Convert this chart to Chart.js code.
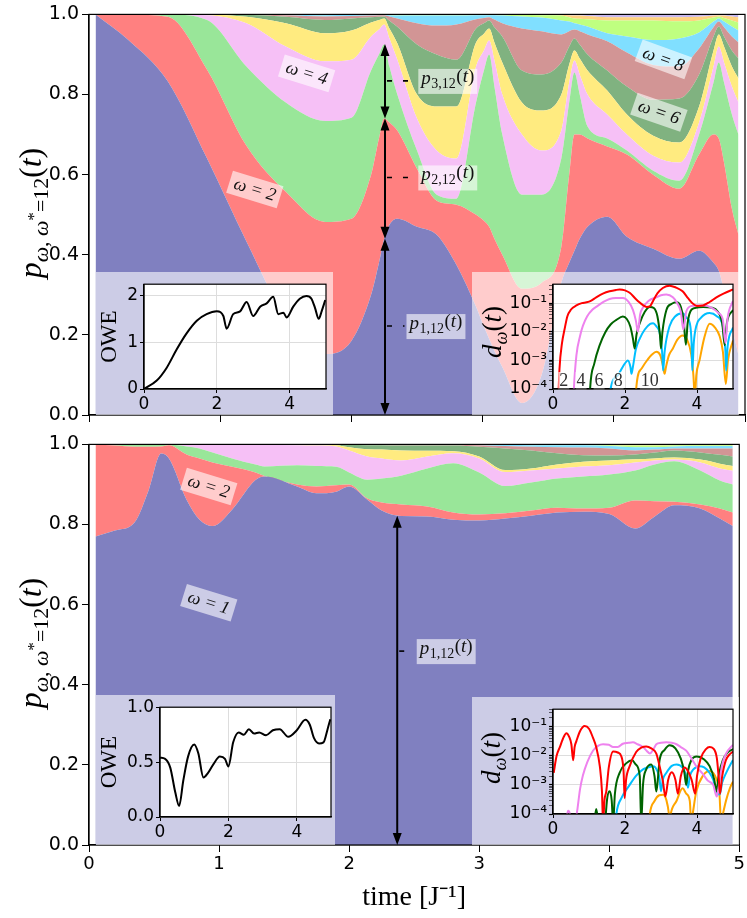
<!DOCTYPE html>
<html>
<head>
<meta charset="utf-8">
<script src="https://cdn.jsdelivr.net/npm/chart.js@4.4.1/dist/chart.umd.min.js"></script>
<style>
  body { margin: 0; width: 747px; height: 918px; position: relative; background: #fff; overflow: hidden; }
  canvas { position: absolute; left: 0; top: 0; }
  .pane { position: absolute; background: rgba(255,255,255,0.6); }
  .vtitle { position: absolute; height: 40px; line-height: 40px; text-align: center; transform: rotate(-90deg);
    font-family: 'Liberation Serif', serif; white-space: nowrap; color: #000; }
  .vtitle sub { font-size: 0.68em; vertical-align: -0.3em; }
  .vtitle sup { font-size: 0.8em; vertical-align: 0.5em; }
</style>
</head>
<body>
<canvas id="topMain" width="747" height="430"></canvas>
<canvas id="bottomMain" width="747" height="488" style="top:430px"></canvas>
<div class="pane" style="left:96px;top:272px;width:237px;height:143px"><canvas id="topOwe" width="237" height="143"></canvas></div>
<div class="pane" style="left:472px;top:272px;width:267px;height:143px"><canvas id="topDist" width="267" height="143"></canvas></div>
<div class="pane" style="left:96px;top:695px;width:239px;height:150px"><canvas id="bottomOwe" width="239" height="150"></canvas></div>
<div class="pane" style="left:472px;top:697px;width:267px;height:148px"><canvas id="bottomDist" width="267" height="148"></canvas></div>
<div class="vtitle" style="left:-100px;top:193px;width:260px;font-size:32px"><i>p</i><sub><i>ω</i>, <i>ω</i><sup>*</sup>=12</sub>(<i>t</i>)</div>
<div class="vtitle" style="left:-100px;top:623px;width:260px;font-size:32px"><i>p</i><sub><i>ω</i>, <i>ω</i><sup>*</sup>=12</sub>(<i>t</i>)</div>
<div class="vtitle" style="left:452px;top:312px;width:80px;font-size:27px"><i>d</i><sub><i>ω</i></sub>(<i>t</i>)</div>
<div class="vtitle" style="left:451px;top:738px;width:80px;font-size:27px"><i>d</i><sub><i>ω</i></sub>(<i>t</i>)</div>
<script>
// stacked occupation p_w(t): upper edge of each band (cumulative over w), w* = 12
const timeTop = [0.05, 0.3, 0.6, 0.9, 1.2, 1.5, 1.8, 2.0, 2.15, 2.21, 2.25, 2.29, 2.35, 2.5, 2.65, 2.8, 2.95, 3.01, 3.05, 3.09, 3.15, 3.3, 3.45, 3.6, 3.66, 3.7, 3.74, 3.8, 3.95, 4.1, 4.3, 4.5, 4.65, 4.76, 4.8, 4.84, 4.9, 4.95]
const topEdge1 = [1.0, 0.936, 0.833, 0.64, 0.433, 0.243, 0.152, 0.185, 0.30, 0.38, 0.44, 0.475, 0.49, 0.47, 0.45, 0.375, 0.27, 0.22, 0.19, 0.16, 0.12, 0.03, 0.10, 0.33, 0.38, 0.41, 0.44, 0.47, 0.495, 0.445, 0.415, 0.39, 0.41, 0.38, 0.36, 0.31, 0.22, 0.15]
const topEdge2 = [1.0, 0.999, 0.994, 0.862, 0.672, 0.557, 0.482, 0.49, 0.60, 0.69, 0.74, 0.73, 0.71, 0.615, 0.535, 0.525, 0.50, 0.485, 0.47, 0.44, 0.40, 0.315, 0.33, 0.42, 0.60, 0.70, 0.70, 0.69, 0.67, 0.65, 0.60, 0.565, 0.65, 0.70, 0.69, 0.63, 0.515, 0.45]
const topEdge3 = [1.0, 1.0, 1.0, 0.986, 0.87, 0.78, 0.734, 0.742, 0.86, 0.90, 0.925, 0.87, 0.80, 0.66, 0.55, 0.54, 0.78, 0.86, 0.90, 0.82, 0.70, 0.55, 0.55, 0.64, 0.78, 0.855, 0.80, 0.72, 0.69, 0.66, 0.61, 0.585, 0.70, 0.83, 0.88, 0.83, 0.75, 0.70]
const topEdge4 = [1.0, 1.0, 1.0, 0.998, 0.978, 0.92, 0.883, 0.887, 0.945, 0.962, 0.975, 0.94, 0.887, 0.74, 0.66, 0.64, 0.87, 0.91, 0.935, 0.885, 0.80, 0.70, 0.66, 0.71, 0.83, 0.885, 0.85, 0.80, 0.75, 0.70, 0.647, 0.63, 0.73, 0.87, 0.92, 0.88, 0.82, 0.78]
const topEdge5 = [1.0, 1.0, 1.0, 1.0, 0.994, 0.978, 0.953, 0.96, 0.98, 0.986, 0.99, 0.965, 0.928, 0.80, 0.77, 0.77, 0.93, 0.952, 0.965, 0.93, 0.88, 0.78, 0.76, 0.80, 0.875, 0.91, 0.89, 0.86, 0.81, 0.75, 0.697, 0.68, 0.77, 0.91, 0.95, 0.92, 0.87, 0.84]
const topEdge6 = [1.0, 1.0, 1.0, 1.0, 0.999, 0.994, 0.986, 0.99, 0.993, 0.994, 0.995, 0.984, 0.969, 0.925, 0.90, 0.887, 0.965, 0.978, 0.985, 0.968, 0.945, 0.86, 0.85, 0.88, 0.92, 0.94, 0.925, 0.90, 0.86, 0.82, 0.787, 0.79, 0.85, 0.945, 0.97, 0.945, 0.91, 0.89]
const topEdge7 = [1.0, 1.0, 1.0, 1.0, 1.0, 0.998, 0.995, 0.996, 0.997, 0.998, 0.998, 0.995, 0.99, 0.978, 0.972, 0.975, 0.988, 0.991, 0.993, 0.987, 0.978, 0.965, 0.958, 0.95, 0.958, 0.962, 0.958, 0.95, 0.933, 0.905, 0.874, 0.87, 0.915, 0.968, 0.982, 0.968, 0.945, 0.93]
const topEdge8 = [1.0, 1.0, 1.0, 1.0, 1.0, 1.0, 0.998, 0.999, 0.999, 0.999, 0.999, 0.998, 0.997, 0.997, 0.997, 0.997, 0.998, 0.998, 0.998, 0.998, 0.997, 0.995, 0.992, 0.985, 0.982, 0.978, 0.975, 0.97, 0.953, 0.945, 0.936, 0.94, 0.955, 0.982, 0.99, 0.982, 0.97, 0.96]
const topEdge9 = [1.0, 1.0, 1.0, 1.0, 1.0, 1.0, 1.0, 1.0, 1.0, 1.0, 1.0, 1.0, 0.999, 0.999, 0.999, 0.999, 0.999, 0.999, 0.999, 0.999, 0.999, 0.999, 0.998, 0.997, 0.993, 0.99, 0.989, 0.988, 0.985, 0.985, 0.985, 0.983, 0.985, 0.992, 0.995, 0.991, 0.985, 0.98]
const topEdge10 = [1.0, 1.0, 1.0, 1.0, 1.0, 1.0, 1.0, 1.0, 1.0, 1.0, 1.0, 1.0, 1.0, 1.0, 1.0, 1.0, 1.0, 1.0, 1.0, 1.0, 1.0, 1.0, 0.999, 0.999, 0.998, 0.997, 0.997, 0.996, 0.993, 0.993, 0.993, 0.993, 0.994, 0.997, 0.998, 0.997, 0.995, 0.993]
const topEdge11 = [1.0, 1.0, 1.0, 1.0, 1.0, 1.0, 1.0, 1.0, 1.0, 1.0, 1.0, 1.0, 1.0, 1.0, 1.0, 1.0, 1.0, 1.0, 1.0, 1.0, 1.0, 1.0, 1.0, 1.0, 1.0, 1.0, 1.0, 1.0, 1.0, 1.0, 1.0, 1.0, 1.0, 1.0, 1.0, 1.0, 1.0, 1.0]

const timeBottom = [0.05, 0.2, 0.35, 0.46, 0.555, 0.615, 0.75, 0.85, 0.95, 1.1, 1.28, 1.35, 1.6, 1.75, 1.9, 2.0, 2.14, 2.25, 2.4, 2.6, 2.8, 3.0, 3.2, 3.4, 3.6, 3.8, 4.0, 4.2, 4.35, 4.5, 4.7, 4.85, 4.95]
const botEdge1 = [0.77, 0.785, 0.805, 0.887, 0.977, 0.965, 0.862, 0.812, 0.796, 0.837, 0.911, 0.92, 0.895, 0.878, 0.882, 0.895, 0.862, 0.835, 0.821, 0.82, 0.812, 0.81, 0.815, 0.822, 0.83, 0.832, 0.826, 0.79, 0.82, 0.848, 0.84, 0.815, 0.796]
const botEdge2 = [1.0, 0.997, 0.994, 0.994, 0.995, 0.998, 0.975, 0.965, 0.955, 0.944, 0.93, 0.921, 0.90, 0.895, 0.898, 0.90, 0.865, 0.855, 0.85, 0.845, 0.83, 0.825, 0.828, 0.835, 0.842, 0.84, 0.842, 0.86, 0.858, 0.857, 0.85, 0.84, 0.83]
const botEdge3 = [1.0, 0.999, 0.999, 0.999, 0.999, 1.0, 0.995, 0.99, 0.98, 0.965, 0.95, 0.945, 0.948, 0.946, 0.944, 0.93, 0.912, 0.915, 0.922, 0.94, 0.953, 0.93, 0.896, 0.905, 0.915, 0.92, 0.925, 0.935, 0.95, 0.958, 0.935, 0.91, 0.9]
const botEdge4 = [1.0, 1.0, 1.0, 1.0, 1.0, 1.0, 1.0, 1.0, 1.0, 1.0, 0.999, 0.999, 0.998, 0.997, 0.995, 0.985, 0.97, 0.965, 0.96, 0.97, 0.978, 0.965, 0.931, 0.935, 0.94, 0.945, 0.948, 0.955, 0.96, 0.962, 0.955, 0.94, 0.934]
const botEdge5 = [1.0, 1.0, 1.0, 1.0, 1.0, 1.0, 1.0, 1.0, 1.0, 1.0, 1.0, 1.0, 0.999, 0.999, 0.998, 0.993, 0.988, 0.987, 0.985, 0.984, 0.983, 0.97, 0.936, 0.94, 0.95, 0.957, 0.96, 0.963, 0.965, 0.967, 0.962, 0.952, 0.946]
const botEdge6 = [1.0, 1.0, 1.0, 1.0, 1.0, 1.0, 1.0, 1.0, 1.0, 1.0, 1.0, 1.0, 1.0, 1.0, 1.0, 0.999, 0.998, 0.998, 0.997, 0.997, 0.997, 0.994, 0.99, 0.985, 0.978, 0.973, 0.972, 0.975, 0.98, 0.985, 0.98, 0.974, 0.97]
const botEdge7 = [1.0, 1.0, 1.0, 1.0, 1.0, 1.0, 1.0, 1.0, 1.0, 1.0, 1.0, 1.0, 1.0, 1.0, 1.0, 1.0, 1.0, 1.0, 1.0, 0.999, 0.999, 0.998, 0.996, 0.994, 0.993, 0.992, 0.99, 0.985, 0.987, 0.99, 0.99, 0.99, 0.99]
const botEdge8 = [1.0, 1.0, 1.0, 1.0, 1.0, 1.0, 1.0, 1.0, 1.0, 1.0, 1.0, 1.0, 1.0, 1.0, 1.0, 1.0, 1.0, 1.0, 1.0, 1.0, 1.0, 0.999, 0.999, 0.998, 0.998, 0.998, 0.996, 0.993, 0.993, 0.995, 0.996, 0.996, 0.996]
const botEdge9 = [1.0, 1.0, 1.0, 1.0, 1.0, 1.0, 1.0, 1.0, 1.0, 1.0, 1.0, 1.0, 1.0, 1.0, 1.0, 1.0, 1.0, 1.0, 1.0, 1.0, 1.0, 1.0, 1.0, 1.0, 1.0, 1.0, 0.998, 0.997, 0.997, 0.998, 0.998, 0.998, 0.998]
const botEdge10 = [1.0, 1.0, 1.0, 1.0, 1.0, 1.0, 1.0, 1.0, 1.0, 1.0, 1.0, 1.0, 1.0, 1.0, 1.0, 1.0, 1.0, 1.0, 1.0, 1.0, 1.0, 1.0, 1.0, 1.0, 1.0, 1.0, 0.999, 0.999, 0.999, 0.999, 0.999, 0.999, 0.999]
const botEdge11 = [1.0, 1.0, 1.0, 1.0, 1.0, 1.0, 1.0, 1.0, 1.0, 1.0, 1.0, 1.0, 1.0, 1.0, 1.0, 1.0, 1.0, 1.0, 1.0, 1.0, 1.0, 1.0, 1.0, 1.0, 1.0, 1.0, 1.0, 1.0, 1.0, 1.0, 1.0, 1.0, 1.0]

// band colours, w = 1 .. 11 (half-transparent named colours on white)
const bandColors = ['rgb(128,128,192)', 'rgb(255,128,128)', 'rgb(153,230,153)', 'rgb(246,192,246)', 'rgb(255,235,128)',
  'rgb(128,178,128)', 'rgb(210,149,149)', 'rgb(128,223,255)', 'rgb(191,255,128)', 'rgb(255,210,128)', 'rgb(201,184,237)']

// OWE insets
const oweTimeTop = [0, 0.35, 0.62, 0.9, 1.17, 1.45, 1.72, 2.0, 2.18, 2.27, 2.45, 2.64, 2.82, 3.0, 3.19, 3.37, 3.55, 3.69, 3.83, 3.92, 4.1, 4.28, 4.46, 4.6, 4.7, 4.8, 4.88, 4.98]
const oweTop = [0, 0.18, 0.45, 0.85, 1.19, 1.46, 1.6, 1.66, 1.56, 1.29, 1.6, 1.66, 1.86, 1.56, 1.76, 1.83, 1.97, 1.6, 1.63, 1.53, 1.76, 1.93, 1.99, 1.93, 1.73, 1.5, 1.66, 1.9]
const oweTimeBottom = [0, 0.15, 0.3, 0.45, 0.56, 0.68, 0.82, 1.0, 1.12, 1.27, 1.4, 1.56, 1.75, 1.9, 2.0, 2.14, 2.3, 2.45, 2.6, 2.75, 2.9, 3.1, 3.3, 3.5, 3.75, 4.0, 4.25, 4.38, 4.5, 4.65, 4.78, 4.9, 4.98]
const oweBottom = [0.54, 0.53, 0.45, 0.22, 0.1, 0.33, 0.55, 0.66, 0.58, 0.36, 0.4, 0.48, 0.55, 0.53, 0.46, 0.68, 0.77, 0.75, 0.8, 0.76, 0.77, 0.745, 0.79, 0.8, 0.73, 0.79, 0.885, 0.84, 0.72, 0.67, 0.68, 0.8, 0.89]

// d_w(t) insets, [t, d] pairs; w = 2, 4, 6, 8, 10
const distTop2 = [[0.13,1e-5],[0.18,5e-4],[0.25,4e-3],[0.32,0.012],[0.4,0.035],[0.5,0.06],[0.65,0.083],[0.8,0.1],[0.93,0.107],[1.05,0.12],[1.2,0.16],[1.4,0.22],[1.57,0.26],[1.75,0.29],[1.85,0.3],[2.0,0.28],[2.13,0.23],[2.3,0.14],[2.4,0.107],[2.5,0.085],[2.6,0.074],[2.7,0.08],[2.78,0.12],[2.9,0.22],[3.05,0.34],[3.24,0.41],[3.4,0.36],[3.6,0.26],[3.75,0.15],[3.89,0.095],[4.0,0.08],[4.17,0.083],[4.35,0.11],[4.54,0.16],[4.75,0.22],[5.0,0.3]]
const distTop4 = [[0.55,1e-5],[0.58,1e-4],[0.65,1.5e-3],[0.75,7e-3],[0.83,0.016],[0.95,0.035],[1.1,0.06],[1.2,0.074],[1.4,0.11],[1.57,0.14],[1.75,0.15],[1.94,0.15],[2.1,0.11],[2.22,0.058],[2.3,0.025],[2.36,0.01],[2.42,0.04],[2.5,0.07],[2.65,0.12],[2.87,0.16],[3.0,0.19],[3.15,0.2],[3.33,0.16],[3.45,0.1],[3.55,0.05],[3.62,0.012],[3.7,0.05],[3.85,0.08],[3.98,0.083],[4.2,0.083],[4.4,0.07],[4.6,0.045],[4.72,0.025],[4.79,0.004],[4.85,0.03],[5.0,0.12]]
const distTop6 = [[1.0,1e-5],[1.03,1e-4],[1.15,8e-4],[1.3,3.5e-3],[1.45,9.5e-3],[1.6,0.018],[1.76,0.026],[1.94,0.034],[2.05,0.028],[2.15,0.015],[2.22,0.0058],[2.27,0.0026],[2.32,0.008],[2.41,0.02],[2.55,0.05],[2.69,0.074],[2.8,0.068],[2.9,0.035],[2.97,0.008],[3.0,0.0026],[3.04,0.01],[3.15,0.058],[3.3,0.095],[3.43,0.107],[3.55,0.075],[3.63,0.025],[3.69,0.0035],[3.74,0.02],[3.85,0.06],[4.0,0.07],[4.17,0.074],[4.4,0.07],[4.58,0.05],[4.7,0.02],[4.77,0.0034],[4.83,0.02],[5.0,0.058]]
const distTop8 = [[1.55,1e-5],[1.6,1e-4],[1.8,3e-4],[1.94,6e-4],[2.08,1e-3],[2.15,6e-4],[2.18,3.4e-4],[2.22,6e-4],[2.3,2.4e-3],[2.41,5.8e-3],[2.55,0.012],[2.7,0.019],[2.78,0.02],[2.88,0.015],[2.96,0.0095],[3.03,2e-3],[3.06,4.4e-4],[3.1,2e-3],[3.24,0.016],[3.4,0.035],[3.6,0.044],[3.72,0.03],[3.8,0.02],[3.85,4e-3],[3.87,4.4e-4],[3.91,4e-3],[3.98,0.016],[4.1,0.03],[4.35,0.045],[4.55,0.035],[4.72,0.015],[4.79,2e-3],[4.81,4.4e-4],[4.85,3e-3],[5.0,0.014]]
const distTop10 = [[2.29,1e-5],[2.31,1e-4],[2.45,5e-4],[2.6,9.5e-4],[2.75,1.6e-3],[2.87,2e-3],[2.98,1.5e-3],[3.06,6e-4],[3.1,3.4e-4],[3.14,6e-4],[3.22,1.5e-3],[3.33,2.6e-3],[3.45,5.2e-3],[3.6,7.4e-3],[3.72,5.5e-3],[3.84,1.6e-3],[3.9,3e-4],[3.94,5e-5],[3.98,3e-4],[4.07,1e-3],[4.2,6e-3],[4.35,0.019],[4.5,0.014],[4.63,0.007],[4.72,0.002],[4.8,1.5e-4],[4.86,1e-3],[5.0,0.005]]

const distBot2 = [[0.02,0.0026],[0.1,0.01],[0.19,0.02],[0.3,0.045],[0.37,0.06],[0.45,0.045],[0.51,0.025],[0.56,0.007],[0.6,0.02],[0.65,0.032],[0.75,0.07],[0.88,0.105],[1.0,0.085],[1.11,0.042],[1.2,0.02],[1.3,0.0044],[1.36,6e-4],[1.39,5e-5],[1.43,3e-4],[1.48,6e-4],[1.55,4e-3],[1.67,0.014],[1.8,0.013],[1.9,0.0095],[1.96,3e-3],[1.99,3.5e-4],[2.03,1.5e-3],[2.13,0.0044],[2.31,0.0135],[2.45,0.019],[2.59,0.021],[2.73,0.018],[2.87,0.012],[2.95,0.005],[3.05,0.0014],[3.12,4e-4],[3.2,0.0015],[3.3,0.0027],[3.4,0.0015],[3.47,5e-4],[3.55,0.002],[3.65,0.004],[3.75,0.003],[3.85,0.0015],[3.95,5e-4],[4.0,0.002],[4.1,0.008],[4.25,0.017],[4.35,0.02],[4.45,0.018],[4.55,0.0085],[4.6,0.002],[4.64,5e-4],[4.7,0.002],[4.8,0.007],[4.9,0.011],[5.0,0.014]]
const distBot4 = [[0.35,5e-5],[0.42,1.3e-4],[0.47,1e-4],[0.5,5e-5],[0.56,null],[0.62,5e-5],[0.68,1.5e-4],[0.75,7e-4],[0.83,2.1e-3],[0.95,6e-3],[1.11,0.015],[1.25,0.022],[1.39,0.025],[1.55,0.024],[1.67,0.02],[1.8,0.02],[1.94,0.026],[2.1,0.028],[2.22,0.029],[2.35,0.025],[2.5,0.02],[2.6,0.015],[2.69,0.012],[2.78,0.016],[2.87,0.025],[3.0,0.028],[3.15,0.029],[3.3,0.028],[3.43,0.025],[3.55,0.02],[3.7,0.015],[3.85,0.008],[4.0,0.004],[4.15,0.0025],[4.3,0.0014],[4.45,0.001],[4.55,4e-4],[4.6,8e-4],[4.7,0.005],[4.81,0.012],[5.0,0.024]]
const distBot6 = [[1.15,5e-5],[1.2,1.5e-4],[1.26,5e-5],[1.3,null],[1.45,5e-5],[1.5,3e-4],[1.57,6e-4],[1.63,3e-4],[1.67,5e-5],[1.72,5e-4],[1.85,2.6e-3],[2.04,5.6e-3],[2.2,7e-3],[2.3,5e-3],[2.41,2e-3],[2.45,5e-5],[2.5,1e-3],[2.59,3.4e-3],[2.73,5e-3],[2.82,2e-3],[2.87,5.9e-4],[2.92,2e-3],[2.96,7e-3],[3.1,0.016],[3.24,0.023],[3.4,0.018],[3.55,0.008],[3.65,0.0026],[3.7,1e-3],[3.75,3e-3],[3.84,0.007],[4.0,0.0095],[4.2,0.0075],[4.35,0.0044],[4.48,0.0015],[4.54,5.9e-4],[4.6,0.002],[4.72,0.0072],[4.85,0.013],[5.0,0.017]]
const distBot8 = [[1.74,5e-5],[1.76,1e-4],[1.9,3.5e-4],[2.13,1e-3],[2.3,2e-3],[2.5,3.4e-3],[2.65,4e-3],[2.78,4.4e-3],[2.9,3e-3],[2.96,1.6e-3],[3.0,6e-4],[3.05,1.5e-3],[3.15,2.6e-3],[3.3,4.5e-3],[3.43,5e-3],[3.6,3.9e-3],[3.7,2e-3],[3.75,8e-4],[3.8,2e-3],[3.9,3.4e-3],[4.07,4.4e-3],[4.2,4e-3],[4.35,2.6e-3],[4.45,1.5e-3],[4.54,5.9e-4],[4.63,4.7e-4],[4.7,1.2e-3],[4.81,2.6e-3],[5.0,7.2e-3]]
const distBot10 = [[2.67,5e-5],[2.69,1e-4],[2.82,2.8e-4],[2.95,4.4e-4],[3.06,4.6e-4],[3.15,3e-4],[3.22,1e-4],[3.24,5e-5],[3.27,1e-4],[3.43,2.8e-4],[3.6,7.6e-4],[3.7,5e-4],[3.8,2.8e-4],[3.84,5e-5],[3.88,1e-4],[3.98,5.9e-4],[4.17,2.1e-3],[4.35,3e-3],[4.45,2.6e-3],[4.54,1.6e-3],[4.62,6e-4],[4.67,5e-5],[4.72,1e-4],[4.81,3e-4],[4.92,8e-4],[5.0,1.3e-3]]
const distColors = ['#ff0000', '#ee82ee', '#006400', '#00bfff', '#ffa500']

// w labels along the bottom of the upper d_w inset
const distTagText = ['2', '4', '6', '8', '10']
const distTagTime = [0.3, 0.78, 1.28, 1.81, 2.69]
const distTagLevel = 1.9e-4

// arrows and labels on the main panels
const arrowTimeTop = 2.256
const arrowStopsTop = [0, 0.44, 0.74, 0.926]
const tagSubTop = ['1,12', '2,12', '3,12']
const tagLevelTop = [0.222, 0.593, 0.834]
const tagTimeTop = [2.42, 2.51, 2.51]
const arrowTimeBottom = 2.37
const arrowStopsBottom = [0, 0.822]
const tagSubBottom = ['1,12']
const tagLevelBottom = [0.484]
const tagTimeBottom = [2.52]
const omegaTextTop = ['ω = 2', 'ω = 4', 'ω = 6', 'ω = 8']
const omegaTimeTop = [1.265, 1.66, 4.345, 4.38]
const omegaLevelTop = [0.564, 0.854, 0.757, 0.889]
const omegaTextBottom = ['ω = 2', 'ω = 1']
const omegaTimeBottom = [0.922, 0.922]
const omegaLevelBottom = [0.896, 0.606]

Chart.defaults.font.family = "'DejaVu Sans', sans-serif"
Chart.defaults.color = '#000'

const SERIF = "'Liberation Serif', serif"

function drawTag(ctx, x, y, sub) {
  const big = 'italic 19px ' + SERIF, small = '14px ' + SERIF, norm = '19px ' + SERIF
  ctx.font = big
  const wp = ctx.measureText('p').width, wt = ctx.measureText('t').width
  ctx.font = small
  const ws = ctx.measureText(sub).width
  ctx.font = norm
  const wo = ctx.measureText('(').width, wc = ctx.measureText(')').width
  const w = wp + ws + wo + wt + wc + 7
  ctx.fillStyle = 'rgba(255,255,255,0.6)'
  ctx.fillRect(x, y - 12, w, 25)
  ctx.fillStyle = '#111'
  ctx.textAlign = 'left'
  ctx.textBaseline = 'alphabetic'
  let cx = x + 3
  const base = y + 3
  ctx.font = big; ctx.fillText('p', cx, base); cx += wp + 0.5
  ctx.font = small; ctx.fillText(sub, cx, base + 4); cx += ws + 0.5
  ctx.font = norm; ctx.fillText('(', cx, base - 2); cx += wo
  ctx.font = big; ctx.fillText('t', cx, base - 2); cx += wt
  ctx.font = norm; ctx.fillText(')', cx, base - 2)
}

function drawOmega(ctx, x, y, text, ang) {
  ctx.save()
  ctx.translate(x, y)
  ctx.rotate(ang)
  ctx.font = 'italic 18px ' + SERIF
  const w = ctx.measureText(text).width + 10
  ctx.fillStyle = 'rgba(255,255,255,0.6)'
  ctx.fillRect(-w / 2, -11, w, 23)
  ctx.fillStyle = '#111'
  ctx.textAlign = 'center'
  ctx.textBaseline = 'middle'
  ctx.fillText(text, 0, 1)
  ctx.restore()
}

function drawArrowPair(ctx, x, yLow, yHigh) {
  const head = 12, half = 4.5
  ctx.beginPath()
  ctx.moveTo(x, yLow - head + 2)
  ctx.lineTo(x, yHigh + head - 2)
  ctx.stroke()
  ctx.beginPath()
  ctx.moveTo(x, yLow); ctx.lineTo(x - half, yLow - head); ctx.lineTo(x + half, yLow - head); ctx.closePath()
  ctx.moveTo(x, yHigh); ctx.lineTo(x - half, yHigh + head); ctx.lineTo(x + half, yHigh + head); ctx.closePath()
  ctx.fill()
}

// arrows, dashed leaders, p labels and rotated w labels on a stack panel
const stackNotes = {
  id: 'stackNotes',
  afterDatasetsDraw(chart, args, opts) {
    const { ctx, scales: { x, y } } = chart
    ctx.save()
    ctx.strokeStyle = '#000'
    ctx.fillStyle = '#000'
    ctx.lineWidth = 2
    const ax = x.getPixelForValue(opts.arrowTime)
    for (let i = 1; i < opts.stops.length; i++) {
      drawArrowPair(ctx, ax, y.getPixelForValue(opts.stops[i - 1]), y.getPixelForValue(opts.stops[i]))
    }
    opts.tagSub.forEach((sub, i) => {
      const ty = y.getPixelForValue(opts.tagLevel[i])
      const tx = x.getPixelForValue(opts.tagTime[i])
      ctx.save()
      ctx.lineWidth = 1.6
      ctx.strokeStyle = '#000'
      ctx.setLineDash([5, 11])
      ctx.beginPath(); ctx.moveTo(ax + 2, ty); ctx.lineTo(tx - 2, ty); ctx.stroke()
      ctx.restore()
      drawTag(ctx, tx, ty, sub)
    })
    opts.omegaText.forEach((t, i) => {
      drawOmega(ctx, x.getPixelForValue(opts.omegaTime[i]), y.getPixelForValue(opts.omegaLevel[i]), t, opts.omegaAngle[i])
    })
    ctx.restore()
  }
}

// full black box around a panel
const boxFrame = {
  id: 'boxFrame',
  afterDraw(chart) {
    const a = chart.chartArea, ctx = chart.ctx
    ctx.save()
    ctx.strokeStyle = '#000'
    ctx.lineWidth = 1.2
    ctx.strokeRect(a.left, a.top, a.right - a.left, a.bottom - a.top)
    ctx.restore()
  }
}

// white plot area for the insets
const whitePlot = {
  id: 'whitePlot',
  beforeDraw(chart) {
    const a = chart.chartArea, ctx = chart.ctx
    ctx.save()
    ctx.fillStyle = '#fff'
    ctx.fillRect(a.left, a.top, a.right - a.left, a.bottom - a.top)
    ctx.restore()
  }
}

function makeStack(id, time, edges, cfg) {
  const datasets = edges.map((edge, i) => ({
    data: edge.map((v, k) => ({ x: time[k], y: v })),
    fill: i === 0 ? 'origin' : '-1',
    backgroundColor: bandColors[i],
    borderWidth: 0,
    pointRadius: 0,
    cubicInterpolationMode: 'monotone'
  }))
  return new Chart(document.getElementById(id), {
    type: 'line',
    data: { datasets },
    options: {
      animation: false,
      responsive: false,
      devicePixelRatio: 1,
      layout: { padding: { top: 11, right: 2, left: 0, bottom: 0 } },
      plugins: { legend: { display: false }, tooltip: { enabled: false }, stackNotes: cfg.notes },
      scales: {
        x: {
          type: 'linear', min: 0, max: 5,
          ticks: { stepSize: 1, maxRotation: 0, padding: 2, font: { size: 18 }, callback: cfg.xLabels ? v => v : () => '' },
          grid: { drawOnChartArea: false, color: '#000', tickLength: 7 },
          border: { color: '#000', width: 1.2 },
          title: cfg.xLabels
            ? { display: true, text: 'time [J⁻¹]', font: { family: SERIF, size: 28 }, padding: { top: 0, bottom: 4 } }
            : { display: false },
          afterFit: s => { s.height = cfg.xHeight }
        },
        y: {
          min: 0, max: 1,
          ticks: { stepSize: 0.2, padding: 3, font: { size: 19 }, callback: v => v.toFixed(1) },
          grid: { drawOnChartArea: false, color: '#000', tickLength: 7 },
          border: { color: '#000', width: 1.2 },
          afterFit: s => { s.width = 89 }
        }
      }
    },
    plugins: [stackNotes, boxFrame]
  })
}

makeStack('topMain', timeTop,
  [topEdge1, topEdge2, topEdge3, topEdge4, topEdge5, topEdge6, topEdge7, topEdge8, topEdge9, topEdge10, topEdge11],
  { xLabels: false, xHeight: 15, notes: {
    arrowTime: arrowTimeTop, stops: arrowStopsTop, tagSub: tagSubTop, tagLevel: tagLevelTop, tagTime: tagTimeTop,
    omegaText: omegaTextTop, omegaTime: omegaTimeTop, omegaLevel: omegaLevelTop, omegaAngle: [0.3, 0.3, 0.33, 0.35] } })

makeStack('bottomMain', timeBottom,
  [botEdge1, botEdge2, botEdge3, botEdge4, botEdge5, botEdge6, botEdge7, botEdge8, botEdge9, botEdge10, botEdge11],
  { xLabels: true, xHeight: 73, notes: {
    arrowTime: arrowTimeBottom, stops: arrowStopsBottom, tagSub: tagSubBottom, tagLevel: tagLevelBottom, tagTime: tagTimeBottom,
    omegaText: omegaTextBottom, omegaTime: omegaTimeBottom, omegaLevel: omegaLevelBottom, omegaAngle: [0.3, 0.3] } })

function insetX(height) {
  return {
    type: 'linear', min: 0, max: 5,
    ticks: { stepSize: 2, includeBounds: false, maxRotation: 0, padding: 1, font: { size: 17 } },
    grid: { color: '#dddddd', tickColor: '#000', tickLength: 4 },
    border: { color: '#000', width: 1.2 },
    afterFit: s => { s.height = height }
  }
}

function makeOwe(id, time, values, cfg) {
  return new Chart(document.getElementById(id), {
    type: 'line',
    data: { datasets: [{ data: values.map((v, k) => ({ x: time[k], y: v })), borderColor: '#000', borderWidth: 2,
      pointRadius: 0, cubicInterpolationMode: 'monotone', fill: false }] },
    options: {
      animation: false, responsive: false, devicePixelRatio: 1,
      layout: { padding: cfg.padding },
      plugins: { legend: { display: false }, tooltip: { enabled: false } },
      scales: {
        x: insetX(cfg.xHeight),
        y: {
          min: 0, max: cfg.yMax,
          ticks: { stepSize: cfg.step, includeBounds: false, padding: 2, font: { size: 17 }, callback: cfg.fmt },
          grid: { color: '#dddddd', tickColor: '#000', tickLength: 4 },
          border: { color: '#000', width: 1.2 },
          title: { display: true, text: 'OWE', font: { family: SERIF, size: 23 }, padding: { top: 0, bottom: 0 } },
          afterFit: s => { s.width = cfg.yWidth }
        }
      }
    },
    plugins: [whitePlot, boxFrame]
  })
}

makeOwe('topOwe', oweTimeTop, oweTop, { padding: { top: 6, right: 7, left: 0, bottom: 0 }, xHeight: 26, yWidth: 48, yMax: 2.24, step: 1, fmt: v => v })
makeOwe('bottomOwe', oweTimeBottom, oweBottom, { padding: { top: 11, right: 4, left: 0, bottom: 0 }, xHeight: 28, yWidth: 64, yMax: 1.0, step: 0.5, fmt: v => v.toFixed(1) })

// log axis ticks: 1..9 x 10^k
const logTicks = []
for (let e = -4; e <= -1; e++) for (let m = 1; m <= 9; m++) logTicks.push(m * Math.pow(10, e))
const isDecade = v => Math.abs(Math.log10(v) - Math.round(Math.log10(v))) < 1e-9
const supDigits = { '-': '⁻', '0': '⁰', '1': '¹', '2': '²', '3': '³', '4': '⁴' }
const decadeLabel = v => isDecade(v) ? '10' + String(Math.round(Math.log10(v))).split('').map(c => supDigits[c]).join('') : ''

const distTags = {
  id: 'distTags',
  afterDatasetsDraw(chart, args, opts) {
    if (!opts.show) return
    const { ctx, scales: { x, y } } = chart
    ctx.save()
    ctx.font = '18px ' + SERIF
    ctx.textAlign = 'center'
    ctx.textBaseline = 'middle'
    distTagText.forEach((t, i) => {
      const px = x.getPixelForValue(distTagTime[i]), py = y.getPixelForValue(distTagLevel)
      const w = ctx.measureText(t).width + 2
      ctx.fillStyle = 'rgba(255,255,255,0.7)'
      ctx.fillRect(px - w / 2, py - 9, w, 18)
      ctx.fillStyle = '#333'
      ctx.fillText(t, px, py)
    })
    ctx.restore()
  }
}

function makeDist(id, curves, cfg) {
  return new Chart(document.getElementById(id), {
    type: 'line',
    data: { datasets: curves.map((c, i) => ({
      data: c.map(p => ({ x: p[0], y: p[1] })), borderColor: distColors[i], borderWidth: 2,
      pointRadius: 0, cubicInterpolationMode: 'monotone', fill: false, spanGaps: false })) },
    options: {
      animation: false, responsive: false, devicePixelRatio: 1,
      layout: { padding: cfg.padding },
      plugins: { legend: { display: false }, tooltip: { enabled: false }, distTags: { show: cfg.tags } },
      scales: {
        x: insetX(cfg.xHeight),
        y: {
          type: 'logarithmic', min: 1e-4, max: cfg.yMax,
          afterBuildTicks: s => { s.ticks = logTicks.filter(v => v <= s.max).map(v => ({ value: v })) },
          ticks: { autoSkip: false, padding: 2, font: { size: 17 }, callback: v => decadeLabel(v) },
          grid: {
            color: c => (c.tick && isDecade(c.tick.value)) ? '#dddddd' : 'rgba(0,0,0,0)',
            tickColor: '#000', tickLength: 4,
            tickWidth: c => (c.tick && isDecade(c.tick.value)) ? 1.2 : 0.6
          },
          border: { color: '#000', width: 1.2 },
          afterFit: s => { s.width = 81 }
        }
      }
    },
    plugins: [whitePlot, distTags, boxFrame]
  })
}

makeDist('topDist', [distTop2, distTop4, distTop6, distTop8, distTop10],
  { padding: { top: 7, right: 6, left: 0, bottom: 0 }, xHeight: 26, yMax: 0.46, tags: true })
makeDist('bottomDist', [distBot2, distBot4, distBot6, distBot8, distBot10],
  { padding: { top: 6, right: 6, left: 0, bottom: 0 }, xHeight: 31, yMax: 0.4, tags: false })
</script>
</body>
</html>
